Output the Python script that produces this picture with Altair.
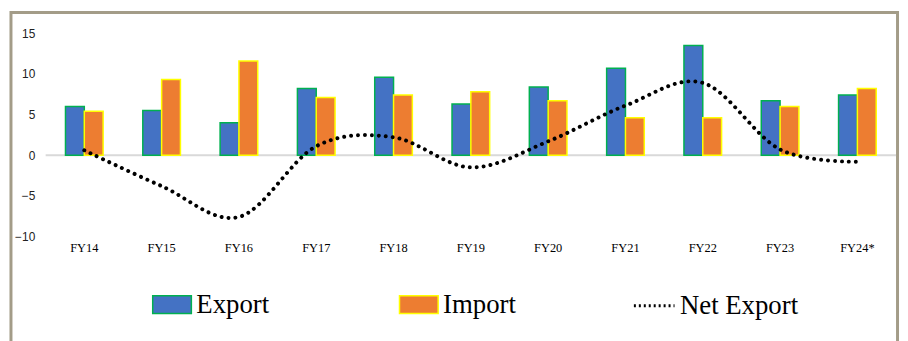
import altair as alt
import pandas as pd

years = ["FY14", "FY15", "FY16", "FY17", "FY18", "FY19", "FY20", "FY21", "FY22", "FY23", "FY24*"]
export_vals = [6.0, 5.5, 4.0, 8.2, 9.6, 6.3, 8.4, 10.7, 13.5, 6.7, 7.4]
import_vals = [5.4, 9.3, 11.6, 7.1, 7.4, 7.8, 6.7, 4.6, 4.6, 6.0, 8.2]
net_vals = [0.6, -3.8, -7.6, 1.1, 2.2, -1.5, 1.7, 6.1, 8.9, 0.7, -0.8]
y_ticks = [-10, -5, 0, 5, 10, 15]

bars_df = pd.DataFrame(
    {"Year": years * 2,
     "Series": ["Export"] * len(years) + ["Import"] * len(years),
     "Value": export_vals + import_vals}
)
net_df = pd.DataFrame({"Year": years, "Value": net_vals, "Net": ["Net Export"] * len(years)})

W, H = 858, 205

x_enc = alt.X("Year:N", sort=years,
              scale=alt.Scale(paddingInner=0.513, paddingOuter=0, range=[20, 838], round=False),
              axis=alt.Axis(title=None, labelAngle=0, domain=False, ticks=False, tickSize=0,
                            labelFont="Liberation Serif", labelFontSize=12.5, labelColor="#000000",
                            labelPadding=5))
y_scale = alt.Scale(domain=[-10, 15], nice=False, zero=False)

bar_legend = alt.Legend(title=None, orient="none", legendX=107, legendY=253, direction="horizontal",
                        symbolType="M-1,-0.46H1V0.46H-1Z", symbolSize=1521, symbolStrokeWidth=1.5,
                        labelFont="Liberation Serif", labelFontSize=27, labelColor="#000000",
                        labelOffset=4, columnPadding=128, symbolOpacity=1)

frame = alt.Chart(pd.DataFrame({"a": [0]})).mark_rect(
    fill=None, stroke="#a39c88", strokeWidth=3
).encode(x=alt.value(-35), x2=alt.value(859.5), y=alt.value(-21), y2=alt.value(H + 140))

zero = alt.Chart(pd.DataFrame({"a": [0]})).mark_rule(color="#d9d9d9", strokeWidth=2).encode(
    y=alt.datum(0, scale=y_scale), x=alt.value(0), x2=alt.value(858)
)

bars = alt.Chart(bars_df).mark_bar(strokeWidth=1.5).encode(
    x=x_enc,
    xOffset=alt.XOffset("Series:N", sort=["Export", "Import"]),
    y=alt.Y("Value:Q", scale=y_scale,
            axis=alt.Axis(title=None, values=y_ticks, grid=False, domain=False, ticks=False, tickSize=0,
                          labelFont="Liberation Sans", labelFontSize=12, labelColor="#222222",
                          labelPadding=11)),
    color=alt.Color("Series:N", sort=["Export", "Import"],
                    scale=alt.Scale(domain=["Export", "Import"], range=["#4472c4", "#ed7d31"]),
                    legend=bar_legend),
    stroke=alt.Stroke("Series:N", sort=["Export", "Import"],
                      scale=alt.Scale(domain=["Export", "Import"], range=["#00b050", "#ffff00"]),
                      legend=bar_legend),
)

line = alt.Chart(net_df).mark_line(
    strokeDash=[0.01, 7], strokeCap="round", strokeWidth=4, interpolate="cardinal", color="#000000"
).encode(
    x=x_enc,
    y=alt.Y("Value:Q", scale=y_scale),
    opacity=alt.Opacity("Net:N", scale=alt.Scale(domain=["Net Export"], range=[1]),
                        legend=alt.Legend(title=None, orient="none", legendX=592, legendY=253,
                                          symbolType="stroke", symbolSize=1681, symbolDash=[2, 3],
                                          symbolStrokeColor="#000000", symbolStrokeWidth=3,
                                          labelFont="Liberation Serif",
                                          labelFontSize=27, labelColor="#000000", labelOffset=4)),
)

chart = alt.layer(frame, zero, bars, line).properties(
    width=W, height=H,
    autosize=alt.AutoSizeParams(type="none"),
    padding={"left": 38, "top": 24, "right": 4, "bottom": 104},
    background="white",
).configure_view(stroke=None)

chart.save("out.html", embed_options={"renderer": "svg", "actions": False})
